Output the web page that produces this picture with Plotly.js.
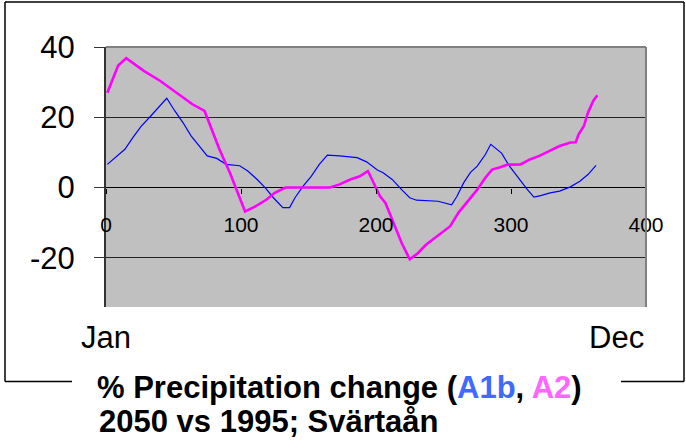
<!DOCTYPE html>
<html>
<head>
<meta charset="utf-8">
<script src="https://cdn.plot.ly/plotly-3.0.1.min.js"></script>
<style>
html,body{margin:0;padding:0;background:#fff;}
#chart{width:686px;height:445px;}
</style>
</head>
<body>
<div id="chart"></div>
<script>
// Day of year and % precipitation change, scenario A1b
const a1bDays = [1,8,14,20,26,33,39,45,51,57,63,70,75,82,89,99,105,112,118,124,131,136,140,146,152,158,164,173,186,193,201,205,212,219,225,230,246,256,260,265,270,275,281,285,293,299,305,312,317,322,329,336,344,351,357,363];
const a1bValues = [6.6,8.9,10.9,14.3,17.4,20.3,22.8,25.4,21.8,18.5,14.7,11.4,9.0,8.3,6.6,6.2,4.7,2.3,-0.1,-2.9,-5.7,-5.7,-2.9,0.4,3.2,6.6,9.2,9.0,8.5,7.3,5.0,4.3,2.3,-0.6,-2.9,-3.6,-3.9,-4.9,-2.5,1.4,4.3,6.1,9.4,12.3,9.8,6.0,2.9,-0.5,-2.7,-2.3,-1.5,-1.0,0.2,1.8,3.7,6.3];
// Scenario A2
const a2Days = [1,5,9,15,21,28,40,52,64,73,79,84,92,98,103,110,119,125,133,166,173,181,188,194,199,203,207,213,219,225,231,237,247,255,261,268,275,281,286,292,297,307,314,321,329,336,344,348,350,354,357,361,364];
const a2Values = [27.0,30.9,34.7,36.8,35.1,33.2,30.4,27.0,23.7,21.8,15.7,10.9,4.0,-2.0,-6.8,-5.5,-3.4,-1.5,0,0,0.9,2.3,3.2,4.7,0.9,-2.5,-4.4,-10.1,-15.8,-20.4,-18.7,-16.3,-13.4,-11.0,-7.2,-3.9,-0.6,2.8,5.1,5.8,6.5,6.6,8.0,9.0,10.4,11.8,12.8,12.9,15.1,17.5,21.3,24.7,26.3];
const xTicks = [0,100,200,300,400];
const yTicks = [-20,0,20,40];
const monthLabels = ['Jan','Dec'];
const titleLines = ['% Precipitation change (<span style="color:#3d6bff">A1b</span>, <span style="color:#ff66ff">A2</span>)', '2050 vs 1995; Svärtaån'];

const FONT = 'Liberation Sans, Arial, sans-serif';

const traces = [
  {x: a1bDays, y: a1bValues, name: 'A1b', type: 'scatter', mode: 'lines',
   line: {color: '#0000ff', width: 1.2}, showlegend: false, hoverinfo: 'none'},
  {x: a2Days, y: a2Values, name: 'A2', type: 'scatter', mode: 'lines',
   line: {color: '#ff00ff', width: 2.6}, showlegend: false, hoverinfo: 'none'}
];

// pixel -> paper helpers (plot area 106..646 x 47..307)
const L = 106, R = 40, T = 47, B = 138, W = 686, H = 445;
const pw = W - L - R, ph = H - T - B;
const px = v => (v - L) / pw;
const py = v => (H - B - v) / ph;
const yMin = -34, yMax = 40;

const layout = {
  width: W, height: H,
  margin: {l: L, r: R, t: T, b: B, pad: 0},
  paper_bgcolor: '#ffffff',
  plot_bgcolor: '#c0c0c0',
  font: {family: FONT, color: '#000'},
  title: {
    text: '<b>' + titleLines[0] + '</b>',
    font: {family: FONT, size: 31, color: '#000'},
    xref: 'container', yref: 'container',
    x: 97 / W, xanchor: 'left',
    y: 1 - 387 / H, yanchor: 'middle'
  },
  xaxis: {
    range: [0, 400], tickvals: xTicks, ticktext: xTicks.map(String),
    anchor: 'free', position: (0 - yMin) / (yMax - yMin),
    showgrid: false, zeroline: false, showline: false,
    ticks: 'outside', ticklen: 5, tickcolor: '#000', tickwidth: 1,
    tickfont: {family: FONT, size: 21, color: '#000'},
    ticklabelstandoff: 13, fixedrange: true
  },
  yaxis: {
    range: [yMin, yMax], tickvals: yTicks, ticktext: yTicks.map(String),
    showgrid: true, gridcolor: '#222', gridwidth: 1,
    zeroline: true, zerolinecolor: '#000', zerolinewidth: 1,
    showline: true, linecolor: '#333', linewidth: 2,
    ticks: 'outside', ticklen: 10, tickcolor: '#333', tickwidth: 1,
    tickfont: {family: FONT, size: 31, color: '#000'},
    ticklabelstandoff: 13, fixedrange: true
  },
  shapes: [
    {type: 'line', xref: 'paper', yref: 'paper', x0: 0, x1: 1, y0: 1, y1: 1, line: {color: '#808080', width: 2}},
    {type: 'line', xref: 'paper', yref: 'paper', x0: 1, x1: 1, y0: 0, y1: 1, line: {color: '#808080', width: 2}},
    {type: 'line', xref: 'paper', yref: 'paper', x0: px(5), x1: px(5), y0: py(2), y1: py(381.5), line: {color: '#000', width: 1.5}},
    {type: 'line', xref: 'paper', yref: 'paper', x0: px(684), x1: px(684), y0: py(2), y1: py(381.5), line: {color: '#000', width: 1.5}},
    {type: 'line', xref: 'paper', yref: 'paper', x0: px(5), x1: px(684), y0: py(2), y1: py(2), line: {color: '#000', width: 1.5}},
    {type: 'line', xref: 'paper', yref: 'paper', x0: px(5), x1: px(72), y0: py(381.5), y1: py(381.5), line: {color: '#000', width: 1.5}},
    {type: 'line', xref: 'paper', yref: 'paper', x0: px(621), x1: px(684), y0: py(381.5), y1: py(381.5), line: {color: '#000', width: 1.5}}
  ],
  annotations: [
    {text: monthLabels[0], xref: 'paper', yref: 'paper', x: px(106), y: py(337), xanchor: 'center', yanchor: 'middle',
     showarrow: false, font: {family: FONT, size: 31, color: '#000'}},
    {text: monthLabels[1], xref: 'paper', yref: 'paper', x: px(646), y: py(337), xanchor: 'right', yanchor: 'middle',
     showarrow: false, font: {family: FONT, size: 31, color: '#000'}},
    {text: '<b>' + titleLines[1] + '</b>', xref: 'paper', yref: 'paper', x: px(97), y: py(421), xanchor: 'left', yanchor: 'middle',
     showarrow: false, font: {family: FONT, size: 31, color: '#000'}}
  ]
};

Plotly.newPlot('chart', traces, layout, {staticPlot: true, displayModeBar: false});
</script>
</body>
</html>
